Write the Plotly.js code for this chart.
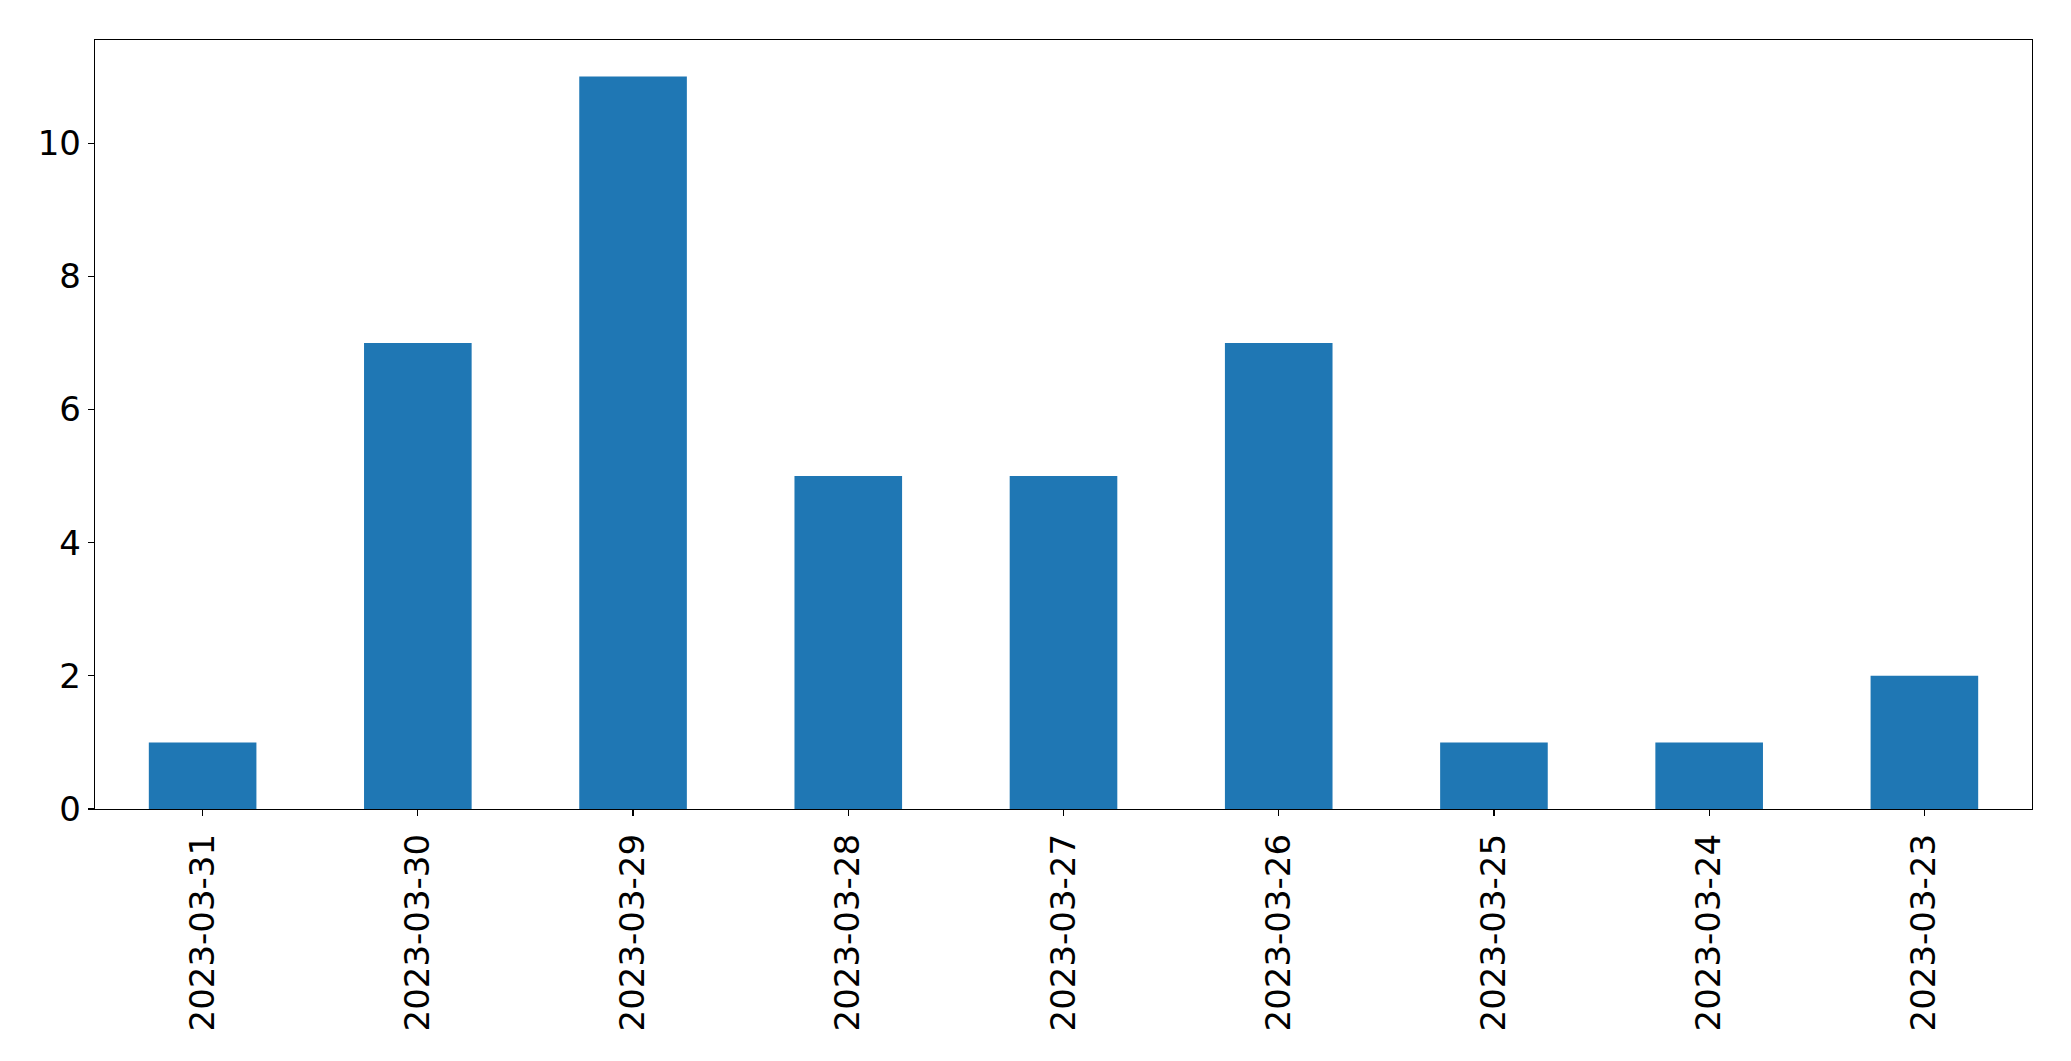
<!DOCTYPE html>
<html>
<head>
<meta charset="utf-8">
<script src="https://cdn.plot.ly/plotly-3.0.1.min.js"></script>
<style>html,body{margin:0;padding:0;background:#fff;}#chart{width:2071px;height:1061px;}</style>
</head>
<body>
<div id="chart"></div>
<script>
const dates = ["2023-03-31","2023-03-30","2023-03-29","2023-03-28","2023-03-27","2023-03-26","2023-03-25","2023-03-24","2023-03-23"];
const counts = [1, 7, 11, 5, 5, 7, 1, 1, 2];
const yTicks = [0, 2, 4, 6, 8, 10];

const font = {family: "DejaVu Sans", size: 34, color: "#000"};
Plotly.newPlot("chart", [{
  type: "bar",
  x: dates,
  y: counts,
  width: 0.5,
  marker: {color: "#1f77b4", line: {width: 0}},
  hoverinfo: "x+y"
}], {
  width: 2071, height: 1061,
  margin: {l: 95, r: 39, t: 40, b: 252, pad: 0},
  paper_bgcolor: "#fff", plot_bgcolor: "#fff",
  showlegend: false,
  font: font,
  xaxis: {
    type: "category", range: [-0.5, 8.5], autorange: false,
    showgrid: false, zeroline: false,
    showline: true, mirror: true, linecolor: "#000", linewidth: 1.3,
    ticks: "outside", ticklen: 6, tickwidth: 1.3, tickcolor: "#000",
    tickangle: -90, tickfont: font, ticklabelstandoff: 4
  },
  yaxis: {
    range: [0, 11.55], autorange: false,
    tickvals: yTicks, ticktext: yTicks.map(String),
    showgrid: false, zeroline: false,
    showline: true, mirror: true, linecolor: "#000", linewidth: 1.3,
    ticks: "outside", ticklen: 6, tickwidth: 1.3, tickcolor: "#000",
    tickfont: font, ticklabelstandoff: 0
  }
}, {displayModeBar: false, staticPlot: true});
</script>
</body>
</html>
